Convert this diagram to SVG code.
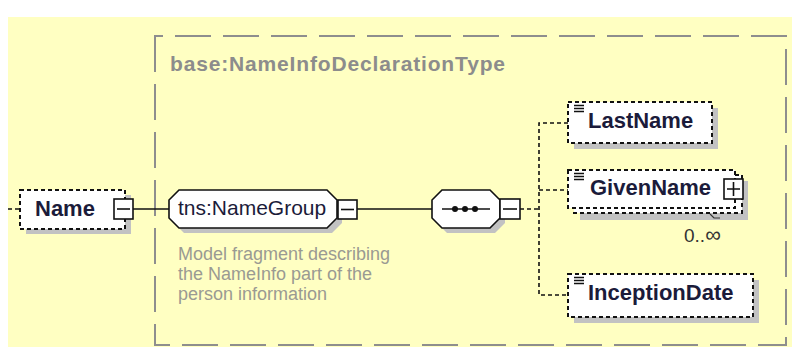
<svg xmlns="http://www.w3.org/2000/svg" width="792" height="347" viewBox="0 0 792 347">
<style>
.el{fill:#fff;stroke:#111;stroke-width:2;stroke-dasharray:4 3}
.sh{fill:#c2c2c2}
.lbl{font-family:"Liberation Sans",Arial,sans-serif;font-weight:bold;font-size:22px;fill:#1b1b3a}
.box{fill:#fff;stroke:#111;stroke-width:1.6}
.sign{stroke:#111;stroke-width:1.6}
.solid{stroke:#111;stroke-width:1.6;fill:none}
.dash{stroke:#111;stroke-width:1.6;fill:none;stroke-dasharray:4 3}
.ann{font-family:"Liberation Sans",Arial,sans-serif;font-size:18px;fill:#9a9a92}
.icon{stroke:#111;stroke-width:1.4}
</style>
<rect x="0" y="0" width="792" height="347" fill="#fff"/>
<rect x="8" y="17" width="784" height="330" fill="#ffffc2"/>
<g id="type-box">
<rect x="155" y="36" width="631" height="309" fill="none" stroke="#8e8e8e" stroke-width="2" stroke-dasharray="36 12" stroke-dashoffset="28"/>
<text x="170" y="71" font-family="'Liberation Sans',Arial,sans-serif" font-weight="bold" font-size="21" fill="#8c8c8c" textLength="335" lengthAdjust="spacing">base:NameInfoDeclarationType</text>
</g>
<g id="connectors">
<line class="dash" x1="8" y1="209" x2="20" y2="209"/>
<line class="solid" x1="133" y1="209" x2="169" y2="209"/>
<line class="solid" x1="357" y1="209" x2="432" y2="209"/>
<line class="dash" x1="520" y1="209" x2="539" y2="209"/>
<path class="dash" d="M568 123 H539 V295 H568 M539 190 H568"/>
</g>
<g id="Name">
<rect class="sh" x="26" y="195" width="105" height="39"/>
<rect class="el" x="20" y="190" width="105" height="39"/>
<text class="lbl" x="35" y="216">Name</text>
<rect class="box" x="114" y="199" width="19" height="20"/>
<line class="sign" x1="117" y1="209" x2="130" y2="209"/>
</g>
<g id="NameGroup">
<polygon class="sh" points="184,195 332,195 342,205 342,223 332,233 184,233 174,223 174,205"/>
<polygon fill="#fff" stroke="#111" stroke-width="1.6" points="179,190 327,190 337,200 337,218 327,228 179,228 169,218 169,200"/>
<text x="178" y="215" font-family="'Liberation Sans',Arial,sans-serif" font-size="21" fill="#1b1b3a">tns:NameGroup</text>
<rect class="box" x="338" y="200" width="19" height="19"/>
<line class="sign" x1="341" y1="209.5" x2="354" y2="209.5"/>
<text class="ann"><tspan x="178" y="260">Model fragment describing</tspan><tspan x="178" y="280">the NameInfo part of the</tspan><tspan x="178" y="300">person information</tspan></text>
</g>
<g id="sequence">
<polygon class="sh" points="447,195 495,195 505,205 505,223 495,233 447,233 437,223 437,205"/>
<polygon fill="#fff" stroke="#111" stroke-width="1.6" points="442,190 490,190 500,200 500,218 490,228 442,228 432,218 432,200"/>
<line class="solid" x1="442" y1="209" x2="490" y2="209"/>
<circle cx="455" cy="209" r="3" fill="#111"/>
<circle cx="465" cy="209" r="3" fill="#111"/>
<circle cx="475" cy="209" r="3" fill="#111"/>
<rect class="box" x="500" y="199" width="20" height="20"/>
<line class="sign" x1="503" y1="209" x2="517" y2="209"/>
</g>
<g id="LastName">
<rect class="sh" x="574" y="108" width="144" height="41"/>
<rect class="el" x="568" y="102" width="144" height="41"/>
<path class="icon" d="M574 105.5h10M574 108.5h10M574 111.5h10"/>
<text class="lbl" x="588" y="128">LastName</text>
</g>
<g id="GivenName">
<rect class="sh" x="580" y="181" width="168" height="39"/>
<rect class="el" x="574" y="175" width="168" height="38"/>
<rect class="el" x="568" y="170" width="167" height="38"/>
<path class="icon" d="M574 173.5h10M574 176.5h10M574 179.5h10"/>
<text class="lbl" x="590" y="195">GivenName</text>
<rect class="box" x="724" y="179" width="19" height="20"/>
<path class="sign" d="M727 189h13M733.5 182v14"/>
<path d="M710 214 L714 218 L720 218" fill="none" stroke="#333" stroke-width="1.2"/>
<text x="684" y="242" font-family="'Liberation Sans',Arial,sans-serif" font-size="19" fill="#333">0..<tspan font-size="22">∞</tspan></text>
</g>
<g id="InceptionDate">
<rect class="sh" x="574" y="280" width="185" height="43"/>
<rect class="el" x="568" y="274" width="185" height="43"/>
<path class="icon" d="M574 277.5h10M574 280.5h10M574 283.5h10"/>
<text class="lbl" x="588" y="300">InceptionDate</text>
</g>
</svg>
